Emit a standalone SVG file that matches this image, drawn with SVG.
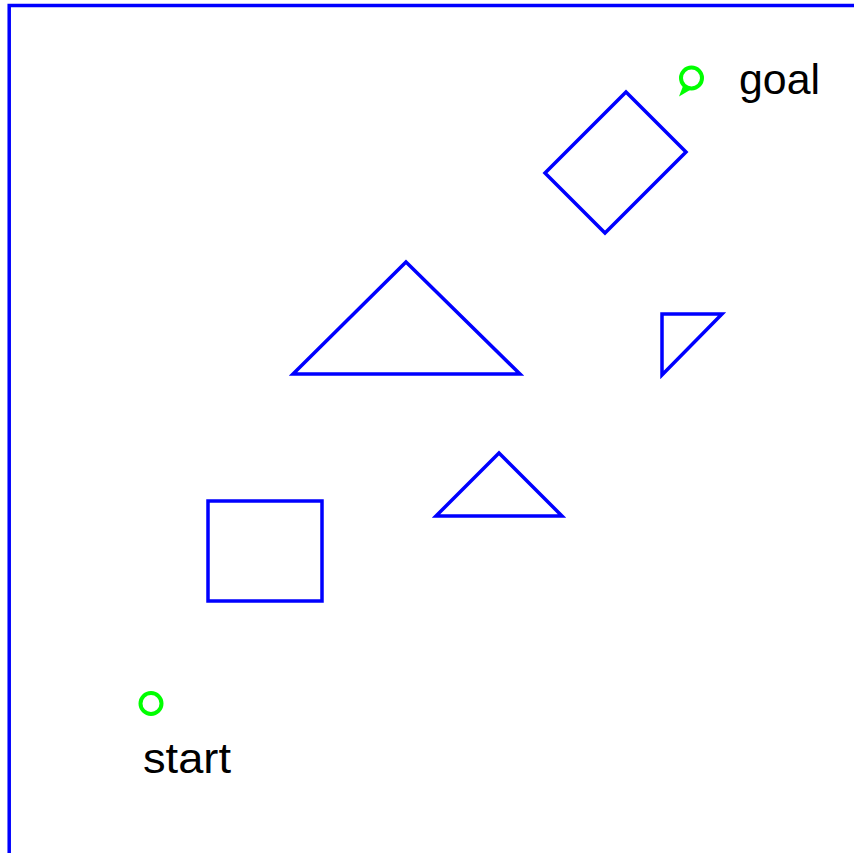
<svg xmlns="http://www.w3.org/2000/svg" width="854" height="853" viewBox="0 0 854 853">
<style>
.ob{fill:none;stroke:#0000ff;stroke-width:3.5;stroke-linejoin:miter}
.pt{fill:none;stroke:#00ff00;stroke-width:4}
.lb{font-family:"Liberation Sans",Arial,sans-serif;font-size:43px;fill:#000}
</style>
<rect width="854" height="853" fill="#fff"/>
<g id="border"><path class="ob" d="M9.2,860 V5.6 H860"/></g>
<g id="obstacle-diamond"><polygon class="ob" points="626,92 686,152 605,233 545,173"/></g>
<g id="obstacle-big-triangle"><polygon class="ob" points="406,262 520,374 293,374"/></g>
<g id="obstacle-right-triangle"><polygon class="ob" points="662,314 722,314 662,375"/></g>
<g id="obstacle-small-triangle"><polygon class="ob" points="499,453 562,516 436,516"/></g>
<g id="obstacle-rect"><rect class="ob" x="208" y="501" width="114" height="100"/></g>
<g id="goal"><circle class="pt" cx="691.5" cy="78" r="10.5"/><path d="M683,86 L679,96.5 L690,90 Z" fill="#00ff00"/><text class="lb" x="739" y="94" textLength="81" lengthAdjust="spacingAndGlyphs">goal</text></g>
<g id="start"><circle class="pt" cx="151" cy="703.5" r="10.5"/><text class="lb" x="143" y="773" textLength="88" lengthAdjust="spacingAndGlyphs">start</text></g>
</svg>
